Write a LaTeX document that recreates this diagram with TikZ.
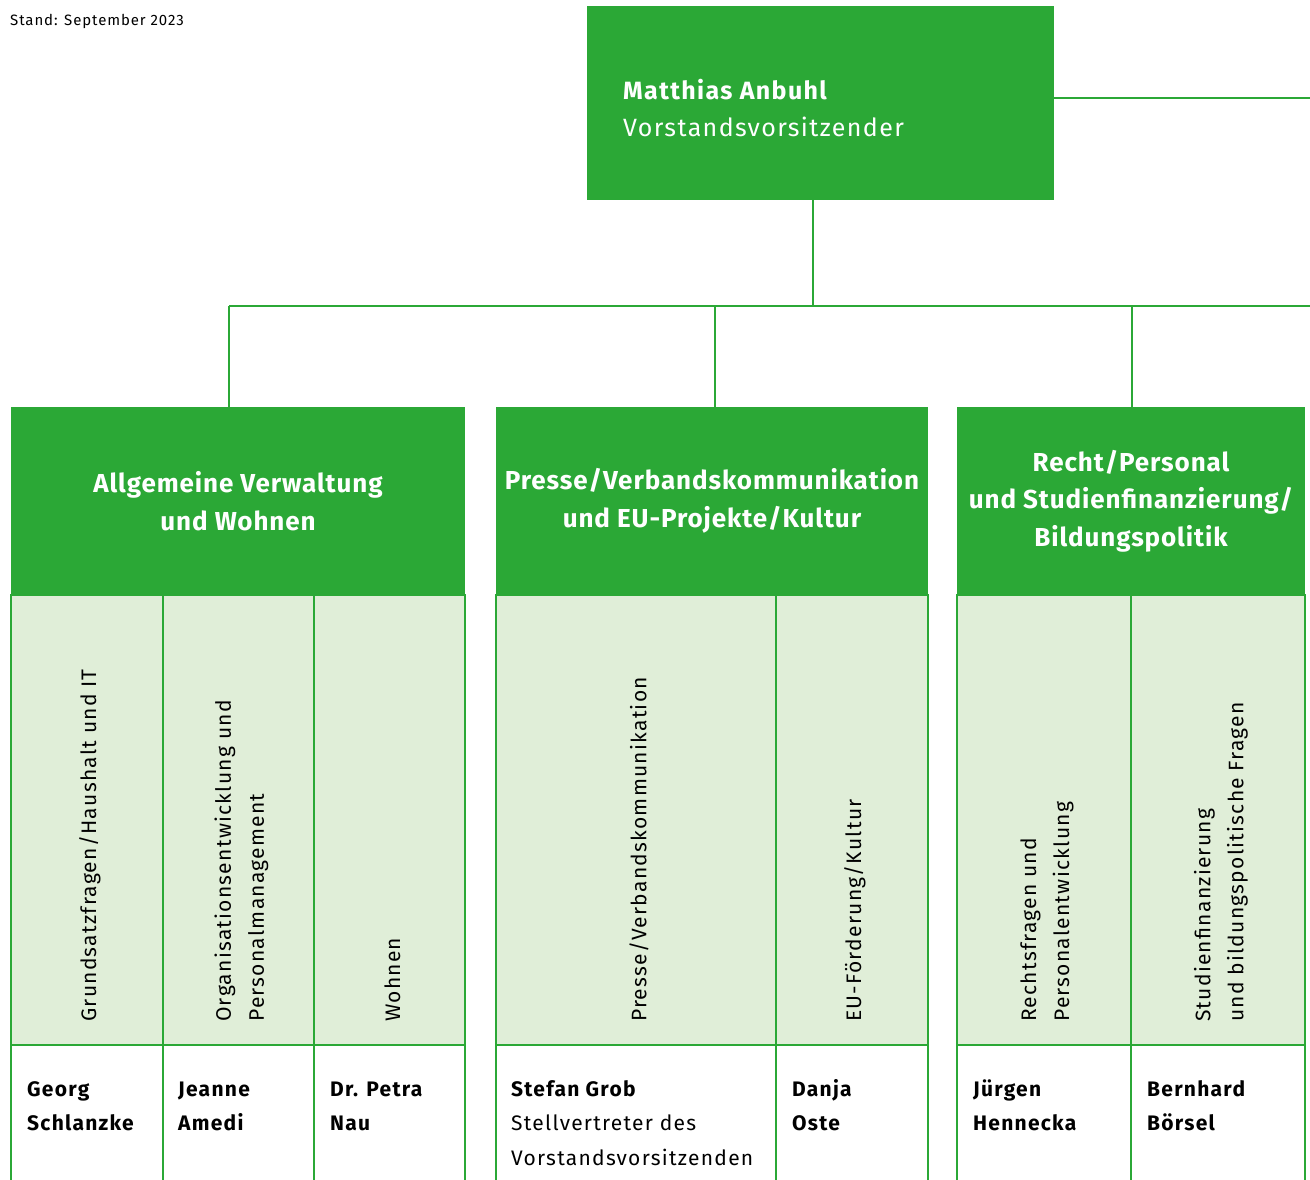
\documentclass[tikz,border=0pt]{standalone}
\usepackage{fontspec}
\setmainfont{Fira Sans}
\definecolor{grn}{HTML}{2BA836}
\definecolor{lgt}{HTML}{E0EED8}
\begin{document}
\begin{tikzpicture}[x=1pt,y=-1pt,
  box/.style={fill=grn,draw=none,inner sep=0pt,outer sep=0pt,anchor=north west},
  hdr/.style={box,text=white,align=center,font=\bfseries\fontsize{26}{37.5}\selectfont\addfontfeature{LetterSpace=3.5}},
  lcell/.style={fill=lgt,draw=grn,line width=1.3pt,inner sep=0pt,outer sep=0pt,anchor=north west,minimum height=450pt},
  wcell/.style={fill=white,draw=grn,line width=2pt,inner sep=0pt,outer sep=0pt,anchor=north west,minimum height=160pt},
  vlabel/.style={rotate=90,anchor=west,align=left,inner sep=0pt,font=\fontsize{21}{33}\selectfont\addfontfeature{LetterSpace=6}},
  nlabel/.style={anchor=base west,align=left,inner sep=0pt,font=\fontsize{21}{34.5}\selectfont\addfontfeature{LetterSpace=6}},
  conn/.style={draw=grn,line width=2.5pt}]
\clip (0,0) rectangle (1310,1179);
\fill[white] (0,0) rectangle (1310,1179);

\node[anchor=west,inner sep=0pt,font=\fontsize{15}{18}\selectfont\addfontfeature{LetterSpace=6}] (stand) at (10,21) {Stand: September 2023};

% top box
\node[box,minimum width=467pt,minimum height=194pt] (top) at (587,6) {};
\node[anchor=west,align=left,inner sep=0pt,text=white,font=\fontsize{25}{37}\selectfont\addfontfeature{LetterSpace=5.5}] (toptext) at ([xshift=36pt,yshift=-5pt]top.west) {\textbf{Matthias Anbuhl}\\Vorstandsvorsitzender};

% group headers
\node[hdr,minimum width=454pt,minimum height=188pt] (g1) at (11,407) {Allgemeine Verwaltung\\und Wohnen};
\node[hdr,minimum width=432pt,minimum height=188pt] (g2) at (496,407) {Presse/Verbandskommunikation\\und EU-Projekte/Kultur};
\node[hdr,minimum width=348pt,minimum height=188pt] (g3) at (957,407) {Recht/Personal\\und Studienfinanzierung/\\Bildungspolitik};

% connectors
\coordinate (topR) at (1054,98);
\coordinate (rightEnd) at (1310,98);
\coordinate (topS) at (813,200);
\coordinate (busL) at (229,306);
\coordinate (busR) at (1310,306);
\coordinate (g2in) at (715,306);
\coordinate (g3in) at (1132,306);
\draw[conn] (topR) -- (rightEnd);
\draw[conn] (topS) -- (topS |- busL);
\draw[conn] (busL) -- (busR);
\draw[conn] (busL) -- (busL |- g1.north);
\draw[conn] (g2in) -- (g2in |- g2.north);
\draw[conn] (g3in) -- (g3in |- g3.north);

% light cells
\node[lcell,minimum width=152pt] (c11) at (11,595) {};
\node[lcell,minimum width=151pt] (c12) at (163,595) {};
\node[lcell,minimum width=151pt] (c13) at (314,595) {};
\node[lcell,minimum width=280pt] (c21) at (496,595) {};
\node[lcell,minimum width=152pt] (c22) at (776,595) {};
\node[lcell,minimum width=174pt] (c31) at (957,595) {};
\node[lcell,minimum width=174pt] (c32) at (1131,595) {};

% white cells
\node[wcell,minimum width=152pt] (w11) at (11,1045) {};
\node[wcell,minimum width=151pt] (w12) at (163,1045) {};
\node[wcell,minimum width=151pt] (w13) at (314,1045) {};
\node[wcell,minimum width=280pt] (w21) at (496,1045) {};
\node[wcell,minimum width=152pt] (w22) at (776,1045) {};
\node[wcell,minimum width=174pt] (w31) at (957,1045) {};
\node[wcell,minimum width=174pt] (w32) at (1131,1045) {};

% vertical labels
\node[vlabel] (t11) at ([xshift=3pt,yshift=23pt]c11.south) {Grundsatzfragen/Haushalt und IT};
\node[vlabel] (t12) at ([xshift=3pt,yshift=23pt]c12.south) {Organisationsentwicklung und\\Personalmanagement};
\node[vlabel] (t13) at ([xshift=3pt,yshift=23pt]c13.south) {Wohnen};
\node[vlabel] (t21) at ([xshift=3pt,yshift=23pt]c21.south) {Presse/Verbandskommunikation};
\node[vlabel] (t22) at ([xshift=3pt,yshift=23pt]c22.south) {EU-Förderung/Kultur};
\node[vlabel] (t31) at ([xshift=3pt,yshift=23pt]c31.south) {Rechtsfragen und\\Personalentwicklung};
\node[vlabel] (t32) at ([xshift=3pt,yshift=23pt]c32.south) {Studienfinanzierung\\und bildungspolitische Fragen};

% names (anchored at the baseline of the last line)
\node[nlabel] (n11) at ([xshift=16pt,yshift=-85.5pt]w11.north west) {\textbf{Georg}\\\textbf{Schlanzke}};
\node[nlabel] (n12) at ([xshift=15pt,yshift=-85.5pt]w12.north west) {\textbf{Jeanne}\\\textbf{Amedi}};
\node[nlabel] (n13) at ([xshift=16pt,yshift=-85.5pt]w13.north west) {\textbf{Dr. Petra}\\\textbf{Nau}};
\node[nlabel] (n21) at ([xshift=15pt,yshift=-120pt]w21.north west) {\textbf{Stefan Grob}\\Stellvertreter des\\Vorstandsvorsitzenden};
\node[nlabel] (n22) at ([xshift=16pt,yshift=-85.5pt]w22.north west) {\textbf{Danja}\\\textbf{Oste}};
\node[nlabel] (n31) at ([xshift=16pt,yshift=-85.5pt]w31.north west) {\textbf{Jürgen}\\\textbf{Hennecka}};
\node[nlabel] (n32) at ([xshift=16pt,yshift=-85.5pt]w32.north west) {\textbf{Bernhard}\\\textbf{Börsel}};
\end{tikzpicture}
\end{document}
